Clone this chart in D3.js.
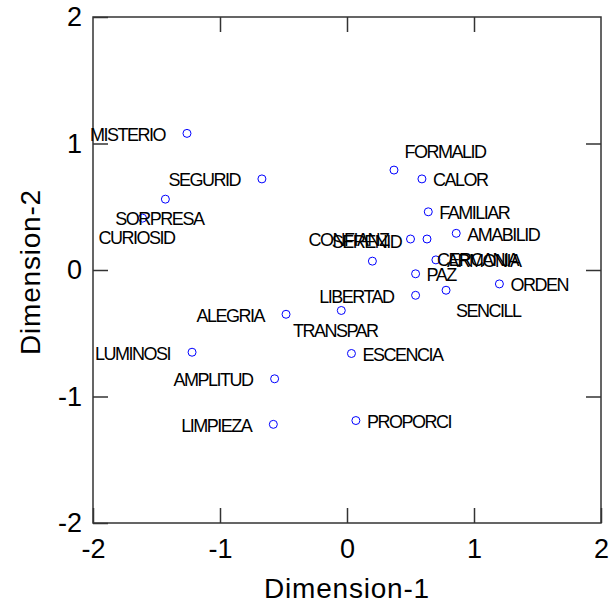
<!DOCTYPE html>
<html>
<head>
<meta charset="utf-8">
<script src="https://cdn.jsdelivr.net/npm/d3@7"></script>
<style>
  html, body { margin: 0; padding: 0; background: #fff; }
  svg { display: block; }
</style>
</head>
<body>
<svg id="chart" width="613" height="608"></svg>
<script>
// MDS configuration of attribute terms (two-dimensional solution)
const terms = [
  "MISTERIO", "SEGURID", "SORPRESA", "CURIOSID", "FORMALID", "CALOR",
  "FAMILIAR", "AMABILID", "CONFIANZ", "CERCANIA", "SERENID", "ARMONIA",
  "PAZ", "ORDEN", "LIBERTAD", "SENCILL", "ALEGRIA", "TRANSPAR",
  "ESCENCIA", "PROPORCI", "LUMINOSI", "AMPLITUD", "LIMPIEZA"
];
const dim1 = [
  -1.26, -0.67, -1.43, -1.61, 0.37, 0.59,
  0.64, 0.86, 0.50, 0.63, 0.20, 0.70,
  0.54, 1.20, 0.54, 0.78, -0.48, -0.045,
  0.035, 0.07, -1.22, -0.57, -0.58
];
const dim2 = [
  1.08, 0.72, 0.56, 0.41, 0.79, 0.72,
  0.46, 0.29, 0.245, 0.245, 0.07, 0.08,
  -0.03, -0.11, -0.20, -0.16, -0.35, -0.32,
  -0.66, -1.19, -0.65, -0.86, -1.22
];
const xTicks = [-2, -1, 0, 1, 2];
const yTicks = [-2, -1, 0, 1, 2];
const xTitle = "Dimension-1";
const yTitle = "Dimension-2";

// Where each term's label sits relative to its point
const labelSide = {
  MISTERIO: "left", SEGURID: "left", SORPRESA: "below", CURIOSID: "below",
  FORMALID: "upright", CALOR: "right", FAMILIAR: "right", AMABILID: "right",
  CONFIANZ: "left", CERCANIA: "downright", SERENID: "above", ARMONIA: "right",
  PAZ: "right", ORDEN: "right", LIBERTAD: "left", SENCILL: "downright",
  ALEGRIA: "left", TRANSPAR: "below", ESCENCIA: "right", PROPORCI: "right",
  LUMINOSI: "left", AMPLITUD: "left", LIMPIEZA: "left"
};
// [dx, dy of text centre, anchor]
const sideOffset = {
  left:      [-22, 1, "end"],
  right:     [11, 1, "start"],
  upright:   [10.5, -18.5, "start"],
  downright: [10, 20.5, "start"],
  above:     [-6, -19.5, "middle"],
  below:     [-6, 19.7, "middle"]
};

const points = terms.map((t, i) => ({ term: t, x: dim1[i], y: dim2[i] }));

const svg = d3.select("#chart");
const plot = { left: 93, right: 601, top: 17, bottom: 523 };

const x = d3.scaleLinear().domain([-2, 2]).range([plot.left, plot.right]);
const y = d3.scaleLinear().domain([-2, 2]).range([plot.bottom, plot.top]);

const axisColor = "#333";
const fontFamily = "Liberation Sans, Arial, sans-serif";
const plainNumber = d => String(d);   // ASCII hyphen for negatives

// Frame
svg.append("rect")
  .attr("x", plot.left).attr("y", plot.top)
  .attr("width", plot.right - plot.left).attr("height", plot.bottom - plot.top)
  .attr("fill", "none").attr("stroke", axisColor).attr("stroke-width", 1.5);

function styleAxis(g, showText) {
  g.select(".domain").remove();
  g.selectAll(".tick line").attr("stroke", axisColor).attr("stroke-width", 1.5);
  g.selectAll(".tick text")
    .attr("fill", "#000")
    .style("font-family", fontFamily)
    .style("font-size", "27px");
  if (!showText) g.selectAll(".tick text").remove();
}

svg.append("g")
  .attr("transform", `translate(0,${plot.bottom})`)
  .call(d3.axisBottom(x).tickValues(xTicks).tickSize(-15).tickSizeOuter(0).tickPadding(16).tickFormat(plainNumber))
  .call(g => styleAxis(g, true));

svg.append("g")
  .attr("transform", `translate(0,${plot.top})`)
  .call(d3.axisTop(x).tickValues(xTicks.slice(1, -1)).tickSize(-15).tickSizeOuter(0))
  .call(g => styleAxis(g, false));

svg.append("g")
  .attr("transform", `translate(${plot.left},0)`)
  .call(d3.axisLeft(y).tickValues(yTicks).tickSize(-15).tickSizeOuter(0).tickPadding(11).tickFormat(plainNumber))
  .call(g => styleAxis(g, true));

svg.append("g")
  .attr("transform", `translate(${plot.right},0)`)
  .call(d3.axisRight(y).tickValues(yTicks.slice(1, -1)).tickSize(-15).tickSizeOuter(0))
  .call(g => styleAxis(g, false));

// Axis titles
svg.append("text")
  .attr("x", (plot.left + plot.right) / 2).attr("y", 598)
  .attr("text-anchor", "middle")
  .style("font-family", fontFamily).style("font-size", "28px")
  .style("letter-spacing", "0.8px")
  .text(xTitle);

svg.append("text")
  .attr("transform", `translate(40,${(plot.top + plot.bottom) / 2 + 2}) rotate(-90)`)
  .attr("text-anchor", "middle")
  .style("font-family", fontFamily).style("font-size", "28px")
  .style("letter-spacing", "0.8px")
  .text(yTitle);

// Points
svg.append("g").selectAll("circle")
  .data(points)
  .join("circle")
  .attr("cx", d => x(d.x))
  .attr("cy", d => y(d.y))
  .attr("r", 4)
  .attr("fill", "none")
  .attr("stroke", "#0000ff")
  .attr("stroke-width", 1);

// Term labels
const labelSize = 18;
svg.append("g").selectAll("text")
  .data(points)
  .join("text")
  .attr("x", d => x(d.x) + sideOffset[labelSide[d.term]][0])
  .attr("y", d => y(d.y) + sideOffset[labelSide[d.term]][1] + labelSize * 0.358)
  .attr("text-anchor", d => sideOffset[labelSide[d.term]][2])
  .style("font-family", fontFamily)
  .style("font-size", labelSize + "px")
  .style("letter-spacing", "-1.5px")
  .attr("fill", "#000")
  .text(d => d.term);
</script>
</body>
</html>
